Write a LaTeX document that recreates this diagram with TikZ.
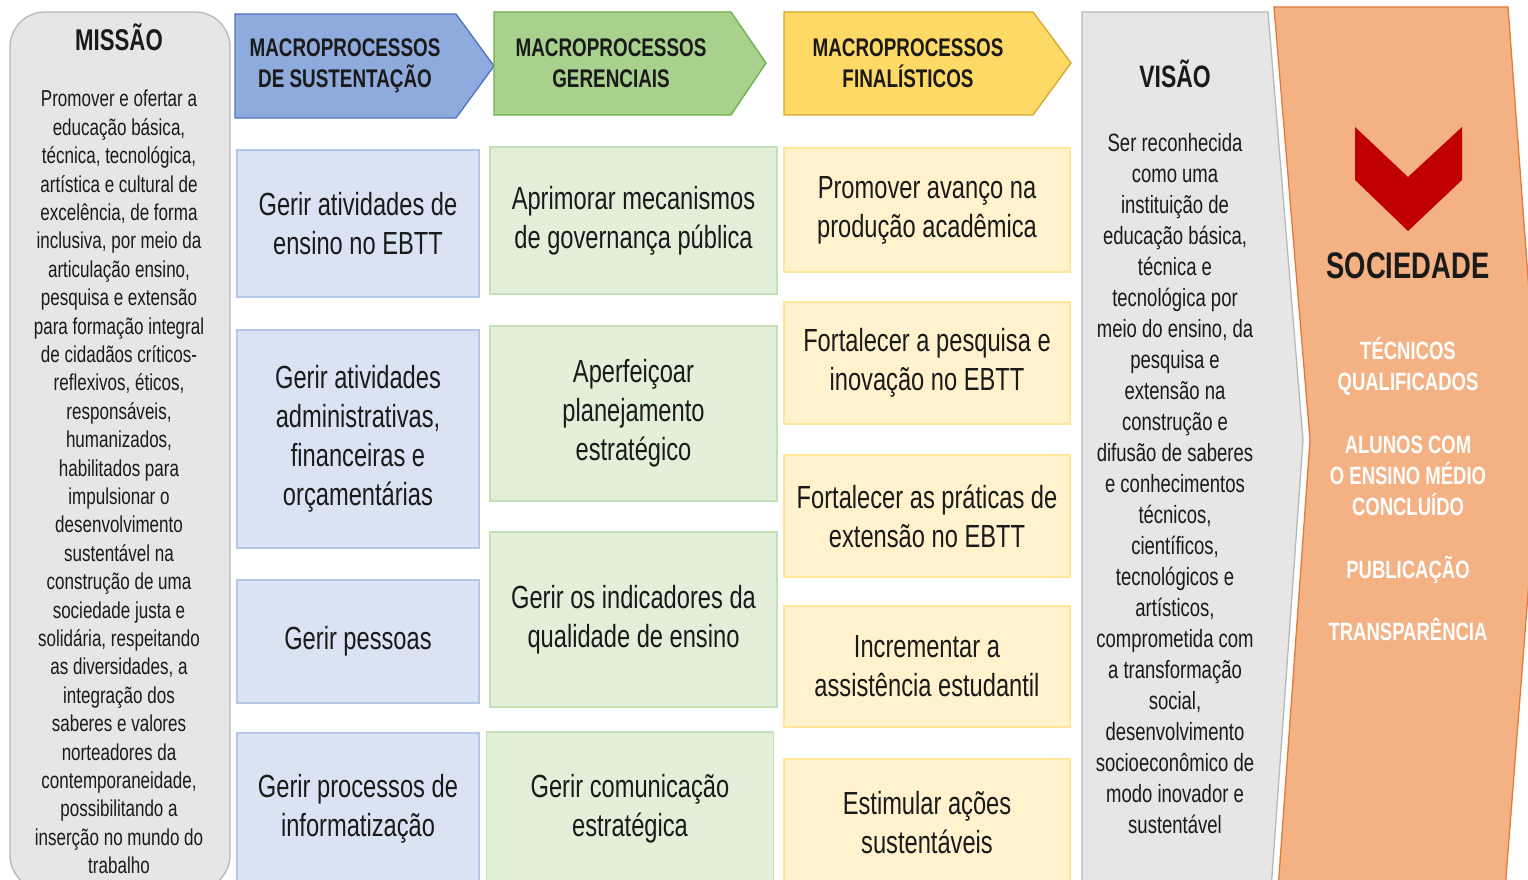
\documentclass[tikz,border=0pt]{standalone}
\usepackage{fontspec}
\setmainfont[FakeStretch=0.74]{Liberation Sans}
\definecolor{cBlueL}{HTML}{DAE3F3}
\definecolor{cBlueB}{HTML}{B4C7E7}
\definecolor{cGreenL}{HTML}{E2F0D9}
\definecolor{cGreenB}{HTML}{C5E0B4}
\definecolor{cYelL}{HTML}{FFF2CC}
\definecolor{cYelB}{HTML}{FFE699}
\definecolor{hBlue}{HTML}{8FAADC}
\definecolor{hBlueB}{HTML}{4F72BE}
\definecolor{hGreen}{HTML}{A9D18E}
\definecolor{hGreenB}{HTML}{70AD47}
\definecolor{hYel}{HTML}{FFD966}
\definecolor{hYelB}{HTML}{D4A72C}
\definecolor{cGray}{HTML}{E6E6E6}
\definecolor{cGrayB}{HTML}{B8B8B8}
\definecolor{cOr}{HTML}{F4B183}
\definecolor{cOrB}{HTML}{E07B39}
\definecolor{cRed}{HTML}{C00000}
\definecolor{cTxt}{HTML}{1A1A1A}
\newcommand\fBox{\fontsize{32}{39}\selectfont}
\newcommand\fHdr{\fontsize{25.5}{31}\selectfont\bfseries}
\newcommand\fMis{\fontsize{23}{28.4}\selectfont}
\newcommand\fVis{\fontsize{25}{31}\selectfont}
\newcommand\fSoc{\fontsize{25}{31.3}\selectfont\bfseries}
\begin{document}
\begin{tikzpicture}[x=1pt,y=-1pt,
  bx/.style={line width=1.3pt, inner sep=0pt, align=center, font=\fBox, text=cTxt},
  blu/.style={bx, fill=cBlueL, draw=cBlueB, minimum width=242},
  grn/.style={bx, fill=cGreenL, draw=cGreenB, minimum width=287},
  yel/.style={bx, fill=cYelL, draw=cYelB, minimum width=286},
  hdr/.style={line width=1.3pt},
  htxt/.style={align=center, font=\fHdr, text=cTxt, inner sep=0pt},
  ttl/.style={font=\bfseries\fontsize{30}{36}\selectfont, text=cTxt, inner sep=0pt}
]
\useasboundingbox (0,0) rectangle (1528,880);
\fill[white] (0,0) rectangle (1528,880);

% MISSAO
\draw[fill=cGray, draw=cGrayB, line width=1.3pt, rounded corners=35] (10,12) rectangle (230,890);
\node[ttl] (mt) at (119,37) {MISSÃO};
\node[align=center, font=\fMis, text=cTxt, inner sep=0pt] (mb) at (119,482) {Promover e ofertar a\\educação básica,\\técnica, tecnológica,\\artística e cultural de\\excelência, de forma\\inclusiva, por meio da\\articulação ensino,\\pesquisa e extensão\\para formação integral\\de cidadãos críticos-\\reflexivos, éticos,\\responsáveis,\\humanizados,\\habilitados para\\impulsionar o\\desenvolvimento\\sustentável na\\construção de uma\\sociedade justa e\\solidária, respeitando\\as diversidades, a\\integração dos\\saberes e valores\\norteadores da\\contemporaneidade,\\possibilitando a\\inserção no mundo do\\trabalho};

% Headers
\draw[hdr, fill=hBlue, draw=hBlueB] (235,14) -- (456,14) -- (494,66) -- (456,118) -- (235,118) -- cycle;
\node[htxt] (h1) at (345,66) {MACROPROCESSOS\\DE SUSTENTAÇÃO};
\draw[hdr, fill=hGreen, draw=hGreenB] (494,12) -- (731,12) -- (766,63) -- (731,115) -- (494,115) -- cycle;
\node[htxt] (h2) at (611,63) {MACROPROCESSOS\\GERENCIAIS};
\draw[hdr, fill=hYel, draw=hYelB] (784,12) -- (1033,12) -- (1071,63) -- (1033,115) -- (784,115) -- cycle;
\node[htxt] (h3) at (908,63) {MACROPROCESSOS\\FINALÍSTICOS};

% Column 1
\node[blu, minimum height=147] (s1) at (358,223.5) {Gerir atividades de\\ensino no EBTT};
\node[blu, minimum height=218] (s2) at (358,439) {Gerir atividades\\administrativas,\\financeiras e\\orçamentárias};
\node[blu, minimum height=123] (s3) at (358,641.5) {Gerir pessoas};
\node[blu, minimum height=152] (s4) at (358,809) {Gerir processos de\\informatização};

% Column 2
\node[grn, minimum height=147] (g1) at (633.5,220.5) {Aprimorar mecanismos\\de governança pública};
\node[grn, minimum height=175] (g2) at (633.5,413.5) {Aperfeiçoar\\planejamento\\estratégico};
\node[grn, minimum height=175] (g3) at (633.5,619.5) {Gerir os indicadores da\\qualidade de ensino};
\node[grn, minimum height=154] (g4) at (630,809) {Gerir comunicação\\estratégica};

% Column 3
\node[yel, minimum height=124] (f1) at (927,210) {Promover avanço na\\produção acadêmica};
\node[yel, minimum height=122] (f2) at (927,363) {Fortalecer a pesquisa e\\inovação no EBTT};
\node[yel, minimum height=122] (f3) at (927,516) {Fortalecer as práticas de\\extensão no EBTT};
\node[yel, minimum height=121] (f4) at (927,666.5) {Incrementar a\\assistência estudantil};
\node[yel, minimum height=128] (f5) at (927,823) {Estimular ações\\sustentáveis};

% VISAO
\draw[fill=cGray, draw=cGrayB, line width=1.3pt] (1082,12) -- (1268,12) -- (1303,440) -- (1271,890) -- (1082,890) -- cycle;
\node[ttl, font=\bfseries\fontsize{31}{36}\selectfont] (vt) at (1175,74) {VISÃO};
\node[align=center, font=\fVis, text=cTxt, inner sep=0pt] (vb) at (1175,484) {Ser reconhecida\\como uma\\instituição de\\educação básica,\\técnica e\\tecnológica por\\meio do ensino, da\\pesquisa e\\extensão na\\construção e\\difusão de saberes\\e conhecimentos\\técnicos,\\científicos,\\tecnológicos e\\artísticos,\\comprometida com\\a transformação\\social,\\desenvolvimento\\socioeconômico de\\modo inovador e\\sustentável};

% SOCIEDADE
\draw[fill=cOr, draw=cOrB, line width=1.3pt] (1274,7) -- (1508,7) -- (1540,440) -- (1505,890) -- (1278,890) -- (1310,440) -- cycle;
\fill[cRed] (1355,127) -- (1408,177) -- (1462,127) -- (1462,180) -- (1408,231) -- (1355,180) -- cycle;
\node[ttl, font=\bfseries\fontsize{37}{42}\selectfont] (st) at (1408,266) {SOCIEDADE};
\node[align=center, font=\fSoc, text=white, inner sep=0pt] (sb) at (1408,489) {TÉCNICOS\\QUALIFICADOS\\[31.3pt]ALUNOS COM\\O ENSINO MÉDIO\\CONCLUÍDO\\[31.3pt]PUBLICAÇÃO\\[31.3pt]TRANSPARÊNCIA};
\end{tikzpicture}
\end{document}
